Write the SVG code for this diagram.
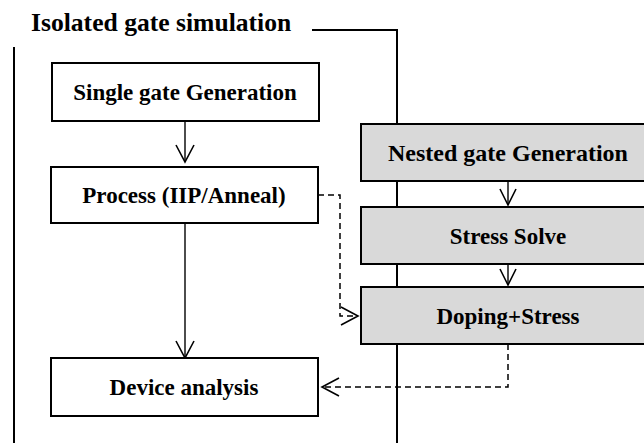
<svg xmlns="http://www.w3.org/2000/svg" width="644" height="443" viewBox="0 0 644 443">
<style>
.box{fill:#fff;stroke:#000;stroke-width:2}
.gbox{fill:#d9d9d9;stroke:#000;stroke-width:2}
.t{font-family:"Liberation Serif","Times New Roman",serif;font-weight:bold;font-size:23px;text-anchor:middle;fill:#000}
.ttl{font-family:"Liberation Serif","Times New Roman",serif;font-weight:bold;font-size:25.6px;fill:#000}
.frame{fill:none;stroke:#000;stroke-width:2}
.c{fill:none;stroke:#000;stroke-width:1.4}
.d{fill:none;stroke:#000;stroke-width:1.5;stroke-dasharray:6 4}
.h{fill:none;stroke:#000;stroke-width:1.6}
</style>
<g id="frame">
<text class="ttl" x="31" y="31">Isolated gate simulation</text>
<path class="frame" d="M14,47 V443"/>
<path class="frame" d="M312,30 H397 V443"/>
</g>
<g id="connectors">
<path class="c" d="M185,121 V161"/>
<path class="h" d="M176,145 L185,162 L194,145"/>
<path class="c" d="M185,223 V357"/>
<path class="h" d="M176,341 L185,358 L194,341"/>
<path class="c" d="M508,181 V205"/>
<path class="h" d="M500,189 L508,205 L516,189"/>
<path class="c" d="M508,264 V285"/>
<path class="h" d="M500,269 L508,285 L516,269"/>
<path class="d" d="M318,195 H340 V316 H357"/>
<path class="h" d="M341,307 L358,316 L341,325"/>
<path class="d" d="M508,344 V387 H323"/>
<path class="h" d="M339,378 L322,387 L339,396"/>
</g>
<g id="single">
<rect class="box" x="52" y="63" width="267" height="58"/>
<text class="t" x="185" y="100">Single gate Generation</text>
</g>
<g id="process">
<rect class="box" x="51" y="167" width="267" height="56"/>
<text class="t" x="184" y="203">Process (IIP/Anneal)</text>
</g>
<g id="device">
<rect class="box" x="51" y="358" width="267" height="58"/>
<text class="t" x="184" y="395">Device analysis</text>
</g>
<g id="nested">
<rect class="gbox" x="361" y="124" width="300" height="57"/>
<text class="t" x="508" y="161" style="font-size:24px">Nested gate Generation</text>
</g>
<g id="stress">
<rect class="gbox" x="361" y="207" width="300" height="57"/>
<text class="t" x="508" y="244">Stress Solve</text>
</g>
<g id="doping">
<rect class="gbox" x="361" y="287" width="300" height="57"/>
<text class="t" x="508" y="324">Doping+Stress</text>
</g>
</svg>
